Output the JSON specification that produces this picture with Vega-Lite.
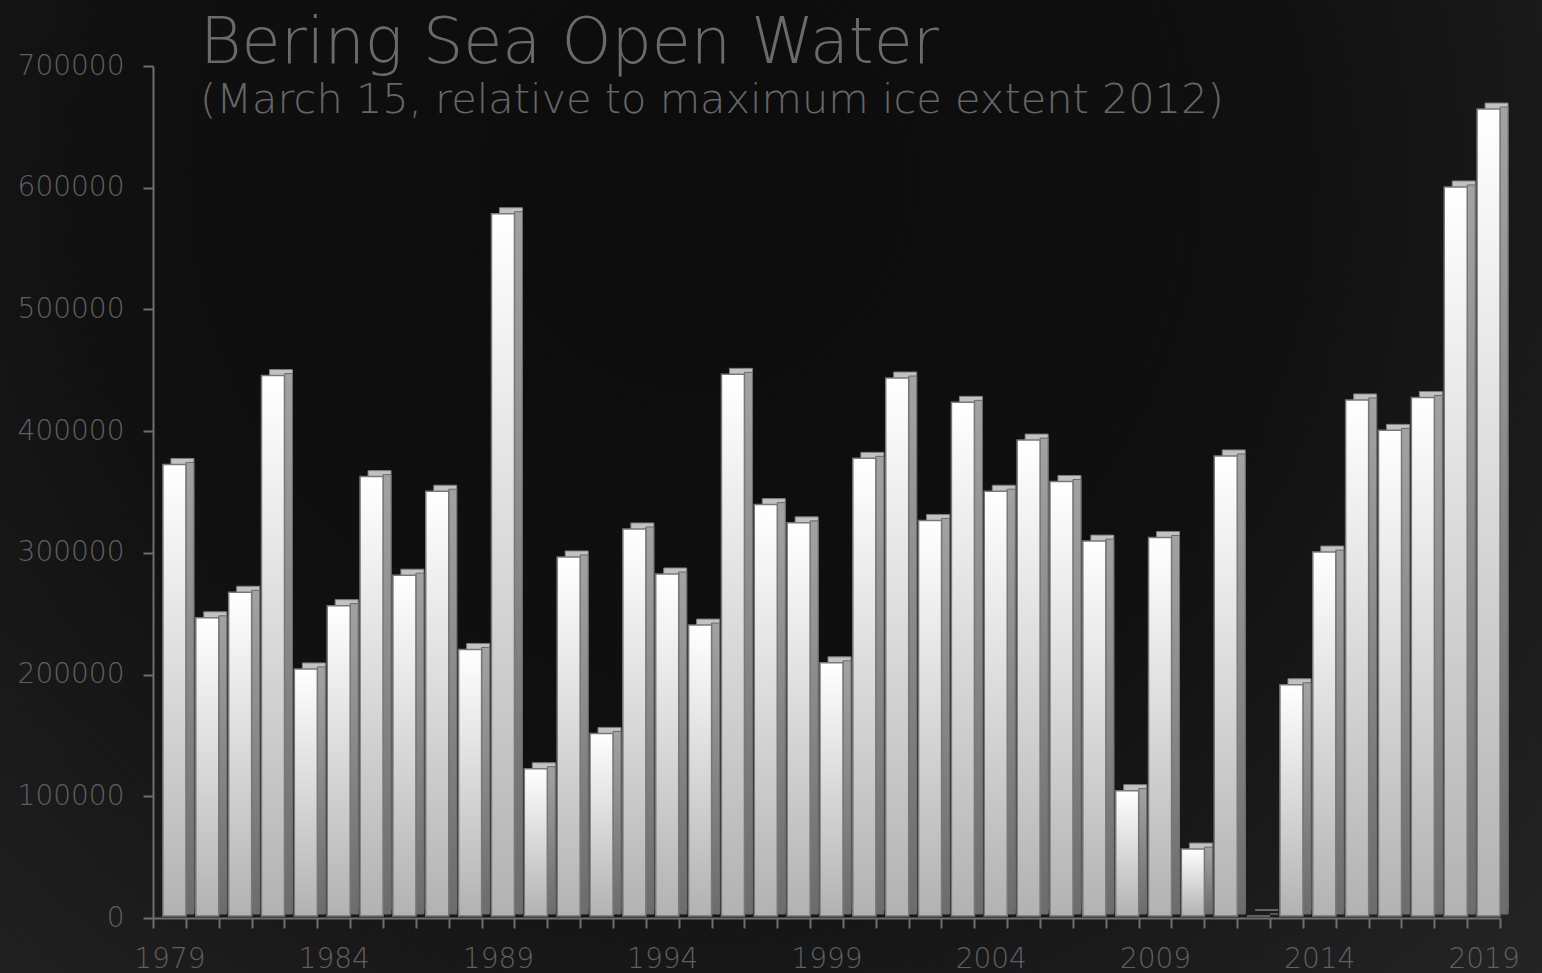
{
  "$schema": "https://vega.github.io/schema/vega-lite/v6.json",
  "width": 1542,
  "height": 973,
  "autosize": {"type": "none"},
  "padding": 0,
  "background": "#161616",
  "config": {
    "view": {
      "stroke": null,
      "fill": {
        "gradient": "radial",
        "x1": 0.45, "y1": 0.3, "r1": 0,
        "x2": 0.45, "y2": 0.3, "r2": 0.85,
        "stops": [
          {"offset": 0, "color": "#0c0c0c"},
          {"offset": 0.45, "color": "#101010"},
          {"offset": 1, "color": "#2a2a2a"}
        ]
      }
    },
    "font": "DejaVu Sans"
  },
  "title": {
    "text": "Bering Sea Open Water",
    "subtitle": "(March 15, relative to maximum ice extent 2012)",
    "anchor": "start",
    "frame": "group",
    "offset": 0,
    "dx": 200,
    "dy": 122,
    "font": "DejaVu Sans",
    "subtitleFont": "DejaVu Sans",
    "fontSize": 63.5,
    "subtitleFontSize": 41.5,
    "fontWeight": 200,
    "subtitleFontWeight": 200,
    "color": "#6a6a6a",
    "subtitleColor": "#666666",
    "subtitlePadding": 3
  },
  "data": {
    "values": [
      {"year": 1979, "open_water": 371000},
      {"year": 1980, "open_water": 245000},
      {"year": 1981, "open_water": 266000},
      {"year": 1982, "open_water": 444000},
      {"year": 1983, "open_water": 203000},
      {"year": 1984, "open_water": 255000},
      {"year": 1985, "open_water": 361000},
      {"year": 1986, "open_water": 280000},
      {"year": 1987, "open_water": 349000},
      {"year": 1988, "open_water": 219000},
      {"year": 1989, "open_water": 577000},
      {"year": 1990, "open_water": 121000},
      {"year": 1991, "open_water": 295000},
      {"year": 1992, "open_water": 150000},
      {"year": 1993, "open_water": 318000},
      {"year": 1994, "open_water": 281000},
      {"year": 1995, "open_water": 239000},
      {"year": 1996, "open_water": 445000},
      {"year": 1997, "open_water": 338000},
      {"year": 1998, "open_water": 323000},
      {"year": 1999, "open_water": 208000},
      {"year": 2000, "open_water": 376000},
      {"year": 2001, "open_water": 442000},
      {"year": 2002, "open_water": 325000},
      {"year": 2003, "open_water": 422000},
      {"year": 2004, "open_water": 349000},
      {"year": 2005, "open_water": 391000},
      {"year": 2006, "open_water": 357000},
      {"year": 2007, "open_water": 308000},
      {"year": 2008, "open_water": 103000},
      {"year": 2009, "open_water": 311000},
      {"year": 2010, "open_water": 55000},
      {"year": 2011, "open_water": 378000},
      {"year": 2012, "open_water": 0},
      {"year": 2013, "open_water": 190000},
      {"year": 2014, "open_water": 299000},
      {"year": 2015, "open_water": 424000},
      {"year": 2016, "open_water": 399000},
      {"year": 2017, "open_water": 426000},
      {"year": 2018, "open_water": 599000},
      {"year": 2019, "open_water": 663000}
    ]
  },
  "encoding": {
    "x": {
      "field": "year",
      "type": "ordinal",
      "scale": {"range": [153, 1500], "paddingInner": 0, "paddingOuter": 0},
      "axis": {
        "orient": "bottom",
        "offset": -55,
        "title": null,
        "grid": false,
        "tickBand": "extent",
        "labelAngle": 0,
        "labelOverlap": false,
        "labelExpr": "(datum.value - 1979) % 5 === 0 ? datum.label : ''",
        "labelFont": "DejaVu Sans",
        "labelFontWeight": 200,
        "labelFontSize": 28,
        "labelColor": "#606060",
        "labelPadding": 17,
        "tickSize": 10,
        "tickWidth": 2,
        "tickColor": "#6e6e6e",
        "domainColor": "#6e6e6e",
        "domainWidth": 2
      }
    },
    "y": {
      "field": "open_water",
      "type": "quantitative",
      "scale": {"domain": [0, 700000], "range": [918, 66], "nice": false, "zero": true},
      "axis": {
        "orient": "left",
        "offset": -153,
        "title": null,
        "grid": false,
        "values": [0, 100000, 200000, 300000, 400000, 500000, 600000, 700000],
        "format": "d",
        "labelFont": "DejaVu Sans",
        "labelFontWeight": 200,
        "labelFontSize": 28,
        "labelColor": "#606060",
        "labelPadding": 19,
        "tickSize": 10,
        "tickWidth": 2,
        "tickColor": "#6e6e6e",
        "domainColor": "#6e6e6e",
        "domainWidth": 2
      }
    }
  },
  "layer": [
    {
      "mark": {
        "type": "bar",
        "width": 23,
        "xOffset": 13,
        "yOffset": -8,
        "y2Offset": -2,
        "fill": "#c2c2c2",
        "stroke": "#7c7c7c",
        "strokeWidth": 1
      }
    },
    {
      "mark": {
        "type": "bar",
        "width": 8,
        "xOffset": 20.5,
        "yOffset": -4,
        "y2Offset": -2,
        "fill": {
          "gradient": "linear",
          "x1": 0, "y1": 0, "x2": 0, "y2": 1,
          "stops": [
            {"offset": 0, "color": "#a2a2a2"},
            {"offset": 1, "color": "#6c6c6c"}
          ]
        },
        "stroke": "#6a6a6a",
        "strokeWidth": 1
      }
    },
    {
      "mark": {
        "type": "bar",
        "width": 23,
        "xOffset": 5,
        "yOffset": -2,
        "y2Offset": -2,
        "fill": {
          "gradient": "linear",
          "x1": 0, "y1": 0, "x2": 0, "y2": 1,
          "stops": [
            {"offset": 0, "color": "#ffffff"},
            {"offset": 1, "color": "#b2b2b2"}
          ]
        },
        "stroke": "#787878",
        "strokeWidth": 1.5
      }
    }
  ]
}
